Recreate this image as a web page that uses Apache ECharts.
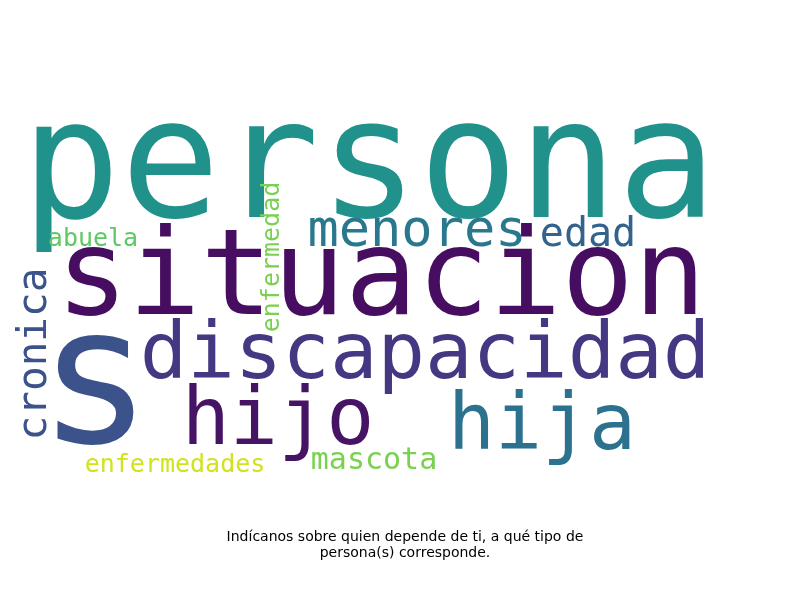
<!DOCTYPE html>
<html>

<head>
  <meta charset="utf-8">
  <title>Nube de palabras</title>
  <style>
    html, body { margin: 0; padding: 0; background: #fff; }
    #chart { width: 800px; height: 600px; }
  </style>
</head>

<body>
  <div id="chart"></div>
  <script src="https://cdn.jsdelivr.net/npm/echarts@6/dist/echarts.min.js"></script>

  <script type="text/javascript">
    // palabras de la nube y su peso (tamaño de letra)
    var palabras = ['s', 'persona', 'situacion', 'hijo', 'discapacidad', 'hija', 'menores',
      'cronica', 'edad', 'mascota', 'abuela', 'enfermedad', 'enfermedades'];
    var pesos = [190, 165, 120, 80, 79, 78, 52, 41, 40, 30, 25, 25, 25];
    // centro de cada palabra en la nube (x de 0 a 800, y de 0 a 600)
    var centroX = [95, 369, 381, 278, 425, 542, 417, 35, 588, 374, 93, 272, 175];
    var centroY = [393, 174, 283, 423, 357, 429, 232.5, 354, 236, 461, 239, 257, 465];
    var vertical = [0, 0, 0, 0, 0, 0, 0, 1, 0, 0, 0, 1, 0];
    var colores = ['#3b528b', '#21918c', '#470d60', '#471365', '#453781', '#2c728e', '#2a788e',
      '#3b528b', '#33638d', '#7ad151', '#5ec962', '#7ad151', '#d2e21b'];

    var titulo = 'Indícanos sobre quien depende de ti, a qué tipo de\npersona(s) corresponde.';

    var datos = palabras.map(function (p, i) {
      return {
        name: p,
        value: [centroX[i], centroY[i]],
        label: {
          fontSize: pesos[i],
          color: colores[i],
          rotate: vertical[i] ? 90 : 0
        }
      };
    });

    var chart = echarts.init(document.getElementById('chart'));
    chart.setOption({
      backgroundColor: '#ffffff',
      animation: false,
      title: {
        text: titulo,
        left: 400,
        top: 524,
        textAlign: 'center',
        textStyle: {
          fontFamily: 'DejaVu Sans',
          fontSize: 14,
          fontWeight: 'normal',
          color: '#000',
          lineHeight: 16
        }
      },
      grid: { left: 0, right: 0, top: 0, bottom: 0 },
      xAxis: { type: 'value', min: 0, max: 800, show: false },
      yAxis: { type: 'value', min: 0, max: 600, inverse: true, show: false },
      series: [{
        type: 'scatter',
        symbolSize: 1,
        itemStyle: { color: 'rgba(255,255,255,0)', opacity: 1 },
        label: {
          show: true,
          position: 'inside',
          align: 'center',
          verticalAlign: 'middle',
          fontFamily: 'DejaVu Sans Mono',
          formatter: '{b}'
        },
        emphasis: { disabled: true },
        data: datos
      }]
    });
    window.addEventListener('resize', chart.resize);
  </script>
</body>

</html>
